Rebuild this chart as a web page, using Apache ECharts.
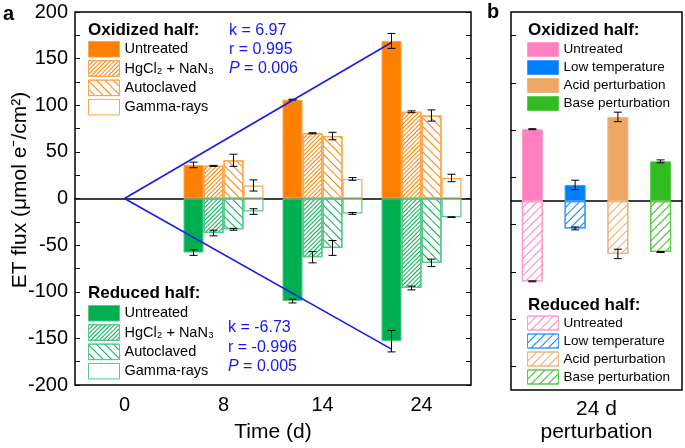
<!DOCTYPE html>
<html>
<head>
<meta charset="utf-8">
<script src="https://cdn.jsdelivr.net/npm/echarts@6/dist/echarts.min.js"></script>
<style>
  html, body { margin: 0; background: #fff; }
  #main { width: 685px; height: 448px; }
</style>
</head>
<body>
<div id="main"></div>
<script>
// ---- panel a data (ET flux, µmol e-/cm2) ----
const days = ['0', '8', '14', '24'];
const treatments = ['Untreated', 'HgCl₂ + NaN₃', 'Autoclaved', 'Gamma-rays'];

const oxUntreated = [null, 36, 106, 169];
const oxHgCl2 = [null, 35, 70, 93];
const oxAutoclaved = [null, 41, 67, 89];
const oxGamma = [null, 14, 21, 22];
const oxUntreatedErr = [null, 3, 0.5, 8];
const oxHgCl2Err = [null, 0.5, 0.5, 1];
const oxAutoclavedErr = [null, 6.5, 4, 6];
const oxGammaErr = [null, 6, 1.5, 4];

const redUntreated = [null, -58, -110, -153];
const redHgCl2 = [null, -37, -63, -96];
const redAutoclaved = [null, -33, -53, -69];
const redGamma = [null, -14, -16, -20];
const redUntreatedErr = [null, 3, 2, 11.5];
const redHgCl2Err = [null, 3, 6, 2];
const redAutoclavedErr = [null, 1, 8, 4];
const redGammaErr = [null, 3, 1, 0.3];

// linear fits through the untreated bars
const fitDays = [0, 24];
const oxSlope = 6.97;
const redSlope = -6.73;
const oxStats = ['k = 6.97', 'r = 0.995', '0.006'];
const redStats = ['k = -6.73', 'r = -0.996', '0.005'];

// ---- panel b data (24 d perturbation) ----
const perturbations = ['Untreated', 'Low temperature', 'Acid perturbation', 'Base perturbation'];
const pertOx = [76, 17, 89, 42];
const pertOxErr = [0.5, 5, 5, 1.5];
const pertRed = [-85, -29, -56, -54];
const pertRedErr = [0.5, 1.5, 5, 0.5];

const chart = echarts.init(document.getElementById('main'));

const FONT = 'Arial, "Liberation Sans", sans-serif';
const ORANGE = '#FF8000', ORANGE_EDGE = '#FFA54D';
const GREEN = '#00B050', GREEN_EDGE = '#55C98A';
const BLUE = '#1717F2';
const pertColors = ['#FF80C0', '#0080FF', '#EDA865', '#33BB22'];
const pertEdges = ['#FF99CC', '#3D9BFF', '#F0B67E', '#5BCB4C'];

const gridA = { left: 75, top: 12, width: 396, bottom: 58 };
const gridB = { left: 511, top: 12, right: 3, bottom: 58 };
const barW = 20;
const catW = gridA.width / days.length;
const pertBarW = 21;

function hatch(color, width, gap, rotation) {
  return { symbol: 'rect', symbolSize: 1, dashArrayX: [1, 0], dashArrayY: [width, gap], rotation: rotation, color: color };
}

function treatStyle(i, main, edge) {
  if (i === 0) return { color: main, borderColor: edge, borderWidth: 1 };
  const s = { color: '#fff', borderColor: edge, borderWidth: 1.2 };
  if (i === 1) s.decal = hatch(main, 0.8, 1.3, -Math.PI / 4);
  if (i === 2) s.decal = hatch(main, 1, 4.5, Math.PI / 4);
  return s;
}

// I-shaped error bar drawn at a bar's slot inside its category
function errorBar(nSlots, w) {
  return function (params, api) {
    const c = api.value(0), v = api.value(1), e = api.value(2), slot = api.value(3);
    const hi = api.coord([c, v + e]);
    const lo = api.coord([c, v - e]);
    const x = hi[0] + (slot - (nSlots - 1) / 2) * w;
    const cap = 4;
    const st = { stroke: '#000', lineWidth: 1 };
    return {
      type: 'group',
      children: [
        { type: 'line', shape: { x1: x, y1: hi[1], x2: x, y2: lo[1] }, style: st },
        { type: 'line', shape: { x1: x - cap, y1: hi[1], x2: x + cap, y2: hi[1] }, style: st },
        { type: 'line', shape: { x1: x - cap, y1: lo[1], x2: x + cap, y2: lo[1] }, style: st }
      ]
    };
  };
}

const labelOf = {};
const series = [];

const oxValues = [oxUntreated, oxHgCl2, oxAutoclaved, oxGamma];
const oxErrors = [oxUntreatedErr, oxHgCl2Err, oxAutoclavedErr, oxGammaErr];
const redValues = [redUntreated, redHgCl2, redAutoclaved, redGamma];
const redErrors = [redUntreatedErr, redHgCl2Err, redAutoclavedErr, redGammaErr];

oxValues.forEach(function (vals, i) {
  const name = 'a-ox-' + i;
  labelOf[name] = treatments[i];
  series.push({
    name: name, type: 'bar', xAxisIndex: 0, yAxisIndex: 0, stack: 't' + i,
    barWidth: barW, barGap: '0%', data: vals, itemStyle: treatStyle(i, ORANGE, ORANGE_EDGE)
  });
});
redValues.forEach(function (vals, i) {
  const name = 'a-red-' + i;
  labelOf[name] = treatments[i];
  series.push({
    name: name, type: 'bar', xAxisIndex: 0, yAxisIndex: 0, stack: 't' + i,
    barWidth: barW, barGap: '0%', data: vals, itemStyle: treatStyle(i, GREEN, GREEN_EDGE)
  });
});

const errA = [];
[[oxValues, oxErrors], [redValues, redErrors]].forEach(function (pair) {
  pair[0].forEach(function (vals, slot) {
    vals.forEach(function (v, c) {
      if (v != null) errA.push([c, v, pair[1][slot][c], slot]);
    });
  });
});
series.push({ type: 'custom', xAxisIndex: 0, yAxisIndex: 0, renderItem: errorBar(4, barW), data: errA, z: 5 });

// fit lines: day 0 sits on the first category, day 24 on the untreated bar of the last one
const fitX = [0, days.length - 1 - 1.5 * barW / catW];
[oxSlope, redSlope].forEach(function (k) {
  series.push({
    type: 'line', xAxisIndex: 3, yAxisIndex: 0, symbol: 'none', silent: true, z: 6,
    lineStyle: { color: BLUE, width: 1.5 },
    data: fitDays.map(function (d, n) { return [fitX[n], k * d]; })
  });
});

// panel b bars
perturbations.forEach(function (p, i) {
  const nameOx = 'b-ox-' + i, nameRed = 'b-red-' + i;
  labelOf[nameOx] = p;
  labelOf[nameRed] = p;
  series.push({
    name: nameOx, type: 'bar', xAxisIndex: 4, yAxisIndex: 2, stack: 'b', barWidth: pertBarW,
    data: perturbations.map(function (q, j) { return j === i ? pertOx[i] : null; }),
    itemStyle: { color: pertColors[i], borderColor: pertEdges[i], borderWidth: 1 }
  });
  series.push({
    name: nameRed, type: 'bar', xAxisIndex: 4, yAxisIndex: 2, stack: 'b', barWidth: pertBarW,
    data: perturbations.map(function (q, j) { return j === i ? pertRed[i] : null; }),
    itemStyle: { color: '#fff', borderColor: pertEdges[i], borderWidth: 1.2, decal: hatch(pertColors[i], 0.8, 5, -Math.PI / 4) }
  });
});
const errB = [];
perturbations.forEach(function (p, i) {
  errB.push([i, pertOx[i], pertOxErr[i], 0]);
  errB.push([i, pertRed[i], pertRedErr[i], 0]);
});
series.push({ type: 'custom', xAxisIndex: 4, yAxisIndex: 2, renderItem: errorBar(1, pertBarW), data: errB, z: 5 });

function legendBlock(names, left, top, itemH, gap, fontSize) {
  return {
    orient: 'vertical', left: left, top: top, padding: 0, itemWidth: 31, itemHeight: itemH, itemGap: gap,
    icon: 'rect', selectedMode: false, data: names,
    formatter: function (n) { return labelOf[n]; },
    itemStyle: { borderWidth: 1 },
    textStyle: { fontFamily: FONT, fontSize: fontSize, color: '#000', lineHeight: itemH }
  };
}

function plainText(text, x, y, size, opts) {
  return {
    type: 'text', x: x, y: y, silent: true,
    style: Object.assign({ text: text, fontFamily: FONT, fontSize: size, fill: '#000', verticalAlign: 'middle' }, opts || {})
  };
}

function statsTexts(lines, x, y0, step) {
  return [
    plainText(lines[0], x, y0, 16, { fill: BLUE }),
    plainText(lines[1], x, y0 + step, 16, { fill: BLUE }),
    plainText('{i|P} = ' + lines[2], x, y0 + 2 * step, 16, {
      fill: BLUE,
      rich: { i: { fontStyle: 'italic', fontFamily: FONT, fontSize: 16, fill: BLUE } }
    })
  ];
}

const yBase = {
  type: 'value', min: -200, max: 200, interval: 50,
  axisLine: { show: false, onZero: false },
  axisTick: { inside: true, length: 5, lineStyle: { color: '#000', width: 1 } },
  minorTick: { show: true, splitNumber: 2, length: 5, lineStyle: { color: '#000', width: 1 } },
  splitLine: { show: false }
};

const option = {
  animation: false,
  grid: [
    Object.assign({ show: true, borderColor: '#000', borderWidth: 1.5 }, gridA),
    Object.assign({ show: true, borderColor: '#000', borderWidth: 1.5 }, gridB)
  ],
  xAxis: [
    { // zero line with upward ticks
      type: 'category', gridIndex: 0, data: days,
      axisLine: { onZero: true, onZeroAxisIndex: 0, lineStyle: { color: '#000', width: 1.5 } },
      axisTick: { inside: true, alignWithLabel: true, length: 6, lineStyle: { color: '#000' } },
      axisLabel: { show: false }, splitLine: { show: false }
    },
    { // zero line downward ticks
      type: 'category', gridIndex: 0, data: days,
      axisLine: { show: false, onZero: true, onZeroAxisIndex: 0 },
      axisTick: { inside: false, alignWithLabel: true, length: 6, lineStyle: { color: '#000' } },
      axisLabel: { show: false }, splitLine: { show: false }
    },
    { // bottom frame with labels
      type: 'category', gridIndex: 0, data: days, position: 'bottom',
      axisLine: { show: false, onZero: false },
      axisTick: { inside: true, alignWithLabel: true, length: 6, lineStyle: { color: '#000' } },
      axisLabel: { fontFamily: FONT, fontSize: 20, color: '#000', margin: 10, lineHeight: 20 },
      name: 'Time (d)', nameLocation: 'middle', nameGap: 37,
      nameTextStyle: { fontFamily: FONT, fontSize: 21, color: '#000', lineHeight: 21 }
    },
    { // hidden value axis for the fit lines
      type: 'value', gridIndex: 0, min: -0.5, max: days.length - 0.5, show: false
    },
    { // panel b bars, zero line
      type: 'category', gridIndex: 1, data: perturbations,
      axisLine: { onZero: true, lineStyle: { color: '#000', width: 1.5 } },
      axisTick: { show: false }, axisLabel: { show: false }, splitLine: { show: false }
    },
    { // panel b bottom label
      type: 'category', gridIndex: 1, data: ['24 d\nperturbation'], position: 'bottom',
      axisLine: { show: false, onZero: false },
      axisTick: { inside: true, alignWithLabel: true, length: 6, lineStyle: { color: '#000' } },
      axisLabel: { fontFamily: FONT, fontSize: 21, color: '#000', margin: 8, lineHeight: 23 }
    }
  ],
  yAxis: [
    Object.assign({}, yBase, {
      gridIndex: 0, position: 'left',
      axisLabel: { fontFamily: FONT, fontSize: 20, color: '#000', margin: 7 }
    }),
    Object.assign({}, yBase, { gridIndex: 0, position: 'right', axisLabel: { show: false } }),
    Object.assign({}, yBase, { gridIndex: 1, position: 'left', axisLabel: { show: false } })
  ],
  legend: [
    legendBlock(['a-ox-0', 'a-ox-1', 'a-ox-2', 'a-ox-3'], 88, 41, 15.5, 2.8, 14.5),
    legendBlock(['a-red-0', 'a-red-1', 'a-red-2', 'a-red-3'], 88, 305, 15.5, 2.8, 14.5),
    legendBlock(['b-ox-0', 'b-ox-1', 'b-ox-2', 'b-ox-3'], 527, 42, 14, 3, 13.5),
    legendBlock(['b-red-0', 'b-red-1', 'b-red-2', 'b-red-3'], 527, 315.5, 14, 3, 13.5)
  ],
  graphic: [
    plainText('a', 3, 14, 20, { fontWeight: 'bold' }),
    plainText('b', 487, 12, 20, { fontWeight: 'bold' }),
    plainText('Oxidized half:', 88, 30, 17, { fontWeight: 'bold' }),
    plainText('Reduced half:', 88, 293, 17, { fontWeight: 'bold' }),
    plainText('Oxidized half:', 528, 30, 17, { fontWeight: 'bold' }),
    plainText('Reduced half:', 528, 305, 17, { fontWeight: 'bold' }),
    {
      type: 'text', x: 20, y: 190, rotation: Math.PI / 2, silent: true,
      style: { text: 'ET flux (μmol e⁻/cm²)', fontFamily: FONT, fontSize: 21, fill: '#000', align: 'center', verticalAlign: 'middle' }
    }
  ].concat(statsTexts(oxStats, 229, 31, 19), statsTexts(redStats, 228, 328, 19.5)),
  series: series
};

chart.setOption(option);
</script>
</body>
</html>
